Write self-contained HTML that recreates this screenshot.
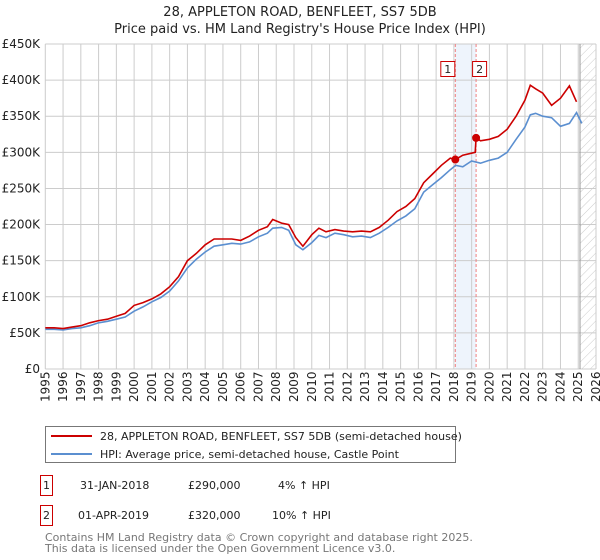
<!DOCTYPE html>
<html><head><meta charset="utf-8"><style>
body{margin:0;background:#fff;font-family:"Liberation Sans","DejaVu Sans",sans-serif;}
#wrap{position:relative;width:600px;height:560px;overflow:hidden;}
</style></head><body>
<div id="wrap">
<svg id="chart" width="600" height="560" style="font-family:'DejaVu Sans','Liberation Sans',sans-serif">
<defs><pattern id="hatch" width="6" height="6" patternUnits="userSpaceOnUse" patternTransform="rotate(45)"><line x1="0" y1="0" x2="0" y2="6" stroke="#ccc" stroke-width="1"/></pattern></defs>
<text x="300" y="16" text-anchor="middle" font-size="13" fill="#222">28, APPLETON ROAD, BENFLEET, SS7 5DB</text>
<text x="300" y="33" text-anchor="middle" font-size="13" fill="#222">Price paid vs. HM Land Registry's House Price Index (HPI)</text>
<g id="grid"></g><g id="marks"></g><g id="axes"></g>
<g>
<rect x="45.5" y="426.5" width="410" height="36" fill="#fff" stroke="#777"/>
<line x1="51" y1="436" x2="92" y2="436" stroke="#cc0000" stroke-width="2"/>
<text x="100" y="440" font-size="11" fill="#222">28, APPLETON ROAD, BENFLEET, SS7 5DB (semi-detached house)</text>
<line x1="51" y1="454" x2="92" y2="454" stroke="#5b8fd0" stroke-width="2"/>
<text x="100" y="458" font-size="11" fill="#222">HPI: Average price, semi-detached house, Castle Point</text>
</g>
<g font-size="11" fill="#222">
<rect x="40.5" y="475.5" width="12" height="20" fill="#fff" stroke="#cc0000"/><text x="46.5" y="489" text-anchor="middle">1</text>
<text x="80" y="489">31-JAN-2018</text><text x="188" y="489">£290,000</text><text x="278" y="489">4% ↑ HPI</text>
<rect x="40.5" y="505.5" width="12" height="20" fill="#fff" stroke="#cc0000"/><text x="46.5" y="519" text-anchor="middle">2</text>
<text x="78" y="519">01-APR-2019</text><text x="188" y="519">£320,000</text><text x="272" y="519">10% ↑ HPI</text>
</g>
<text x="45" y="541" font-size="11" fill="#777">Contains HM Land Registry data © Crown copyright and database right 2025.</text>
<text x="45" y="552" font-size="11" fill="#777">This data is licensed under the Open Government Licence v3.0.</text>
</svg>
</div>
<script>
const hpiYears=[1995,1995.5,1996,1996.5,1997,1997.5,1998,1998.5,1999,1999.5,2000,2000.5,2001,2001.5,2002,2002.5,2003,2003.5,2004,2004.5,2005,2005.5,2006,2006.5,2007,2007.5,2007.8,2008.3,2008.7,2009.1,2009.5,2010,2010.4,2010.8,2011.3,2011.8,2012.3,2012.8,2013.3,2013.8,2014.3,2014.8,2015.3,2015.8,2016.3,2016.8,2017.3,2017.8,2018.1,2018.5,2019,2019.5,2020,2020.5,2021,2021.5,2022,2022.3,2022.6,2023,2023.5,2024,2024.5,2024.9,2025.2];
const hpiValues=[55,55,54,56,57,60,64,66,69,72,80,86,93,99,108,122,140,152,162,170,172,174,173,176,183,188,195,196,192,172,165,175,185,182,188,186,183,184,182,188,196,205,212,222,245,255,265,276,282,280,288,285,289,292,300,318,335,352,354,350,348,336,340,355,340];
const priceYears=[1995,1995.5,1996,1996.5,1997,1997.5,1998,1998.5,1999,1999.5,2000,2000.5,2001,2001.5,2002,2002.5,2003,2003.5,2004,2004.5,2005,2005.5,2006,2006.5,2007,2007.5,2007.8,2008.3,2008.7,2009.1,2009.5,2010,2010.4,2010.8,2011.3,2011.8,2012.3,2012.8,2013.3,2013.8,2014.3,2014.8,2015.3,2015.8,2016.3,2016.8,2017.3,2017.8,2018.08,2018.5,2019.2,2019.25,2019.5,2020,2020.5,2021,2021.5,2022,2022.3,2022.6,2023,2023.5,2024,2024.5,2024.9,2025.2];
const priceValues=[57,57,56,58,60,64,67,69,73,77,88,92,97,104,114,128,150,160,172,180,180,180,178,184,192,197,207,202,200,182,170,186,195,190,193,191,190,191,190,196,206,218,225,236,258,270,282,292,290,296,300,320,316,318,322,332,350,372,393,388,382,365,375,392,370];
const salesYears=[2018.08,2019.25];
const salesValues=[290,320];
const yTicks=[0,50,100,150,200,250,300,350,400,450];
const yTickLabels=["£0","£50K","£100K","£150K","£200K","£250K","£300K","£350K","£400K","£450K"];
const xTicks=[1995,1996,1997,1998,1999,2000,2001,2002,2003,2004,2005,2006,2007,2008,2009,2010,2011,2012,2013,2014,2015,2016,2017,2018,2019,2020,2021,2022,2023,2024,2025,2026];
const NS="http://www.w3.org/2000/svg";
const X0=45.3,X1=596,Y0=369,Y1=44;
function xs(v){return X0+(v-1995)/(2026-1995)*(X1-X0);}
function ys(v){return Y0-v/450*(Y0-Y1);}
function mk(tag,attrs,parent){const e=document.createElementNS(NS,tag);for(const k in attrs)e.setAttribute(k,attrs[k]);parent.appendChild(e);return e;}
const grid=document.getElementById('grid'),marks=document.getElementById('marks'),axes=document.getElementById('axes');
// sale shading
let sh=mk('rect',{x:xs(salesYears[0]),y:Y1,width:xs(salesYears[1])-xs(salesYears[0]),height:Y0-Y1,fill:'#eef4fc'},grid);


let ht=mk('rect',{x:xs(2025.1),y:Y1,width:X1-xs(2025.1),height:Y0-Y1,fill:'url(#hatch)'},grid);


yTicks.forEach((t,i)=>{
 let l=mk('line',{x1:X0,x2:X1,y1:ys(t),y2:ys(t),stroke:'#ccc','stroke-width':1},grid);
 
 
 let tx=mk('text',{x:40,y:ys(t)+4,'text-anchor':'end','font-size':12,fill:'#222'},axes);
 tx.textContent=yTickLabels[i];
 
 
});
xTicks.forEach(t=>{
 let l=mk('line',{x1:xs(t),x2:xs(t),y1:Y1,y2:Y0,stroke:'#ccc','stroke-width':1},grid);
 
 
 let tx=mk('text',{x:0,y:0,'font-size':12,fill:'#222',transform:`translate(${xs(t)+4},${Y0+33}) rotate(-90)`},axes);
 tx.textContent=t;
 
 
});
let vl=mk('line',{x1:xs(2025.1),x2:xs(2025.1),y1:Y1,y2:Y0,stroke:'#999','stroke-width':1},grid);


salesYears.forEach((y,i)=>{
 let l=mk('line',{x1:xs(y),x2:xs(y),y1:Y1,y2:Y0,stroke:'#f08080','stroke-width':1,'stroke-dasharray':'3,2'},grid);
 
 
 const bx=xs(y)+(i==0?-8:3);
 let r=mk('rect',{x:bx-6.5,y:61.5,width:14,height:15,fill:'#fff',stroke:'#cc0000'},axes);
 
 
 let tx=mk('text',{x:bx+0.5,y:73,'text-anchor':'middle','font-size':11,fill:'#222'},axes);
 tx.textContent=String(i+1);
 
 
});
function path(xa,va){return xa.map((x,i)=>(i?'L':'M')+xs(x).toFixed(1)+','+ys(va[i]).toFixed(1)).join('');}
let hp=mk('path',{d:path(hpiYears,hpiValues),fill:'none',stroke:'#5b8fd0','stroke-width':1.6},marks);


let pp=mk('path',{d:path(priceYears,priceValues),fill:'none',stroke:'#cc0000','stroke-width':1.6},marks);


salesYears.forEach((y,i)=>{
 let c=mk('circle',{cx:xs(y),cy:ys(salesValues[i]),r:4,fill:'#cc0000'},marks);
 
 
});
</script>
</body></html>
